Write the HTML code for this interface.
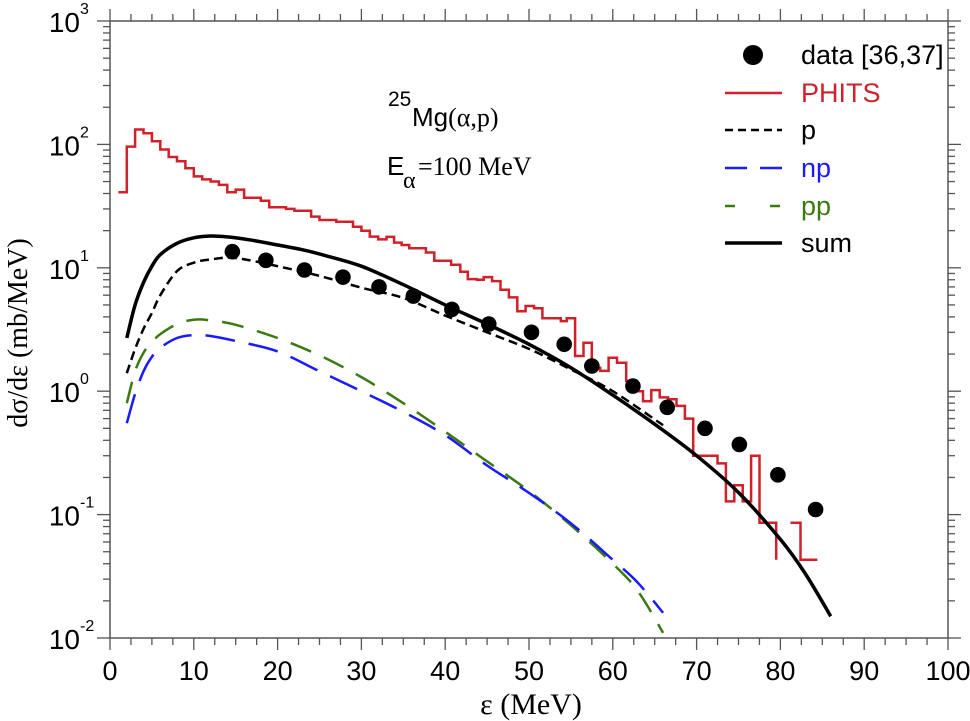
<!DOCTYPE html>
<html><head><meta charset="utf-8">
<style>
html,body{margin:0;padding:0;background:#fff;}
svg{display:block;}
.t{font-family:"Liberation Sans",Arial,sans-serif;}
.s{font-family:"Liberation Serif","Times New Roman",serif;}
</style></head>
<body>
<svg id="chart" width="970" height="721" viewBox="0 0 970 721" xmlns="http://www.w3.org/2000/svg">
<g id="plot"></g>
<g id="axes"></g>
<text class="s" transform="translate(27,333) rotate(-90)" text-anchor="middle" font-size="28">dσ/dε (mb/MeV)</text>
<text class="s" x="531" y="714" text-anchor="middle" font-size="30">ε (MeV)</text>
<g>
<text class="t" x="388" y="106" font-size="21">25</text>
<text class="t" x="412" y="126" font-size="26">Mg<tspan class="s">(α,p)</tspan></text>
</g>
<g>
<text class="t" x="387" y="175" font-size="26">E</text>
<text class="s" x="403" y="188" font-size="24">α</text>
<text class="s" x="418" y="175" font-size="26">=100 MeV</text>
</g>
<g id="legend"></g>
</svg>
<script>
// ---- data ----
const phitsEdges = [1,2,3,4,5,6,7,8,9,10,11,12,13,14,15,16,17,18,19,20,21,22,23,24,25,26,27,28,29,30,31,32,33,33.9,34.8,35.7,36.7,37.7,38.7,39.7,40.7,41.8,42.7,43.8,44.6,45.6,46.6,47.6,48.6,49.6,50.6,51.6,52.7,53.8,54.5,55.5,56.5,57.5,58.5,59.5,60.5,61.6,62.6,63.6,64.6,65.6,66.6,67.6,68.6,69.6,70.6,71.6,72.5,73.5,74.5,75.5,76.5,77.5,78.5,79.5,81.2,82.4,84.4];
const phitsValues = [41,96,132,123,106,91,79,73,64,55,52,50,47,41,43,37,37,35,31,31,30,29,29,26,24.4,24.4,23.6,23.6,21.5,20,17.9,17,17.8,16,15.3,14.4,14.4,13.3,11.4,11.4,10.6,9.3,8.1,8.0,8.4,7.8,6.65,5.76,4.45,4.9,4.7,3.9,3.9,3.7,3.9,1.93,2.47,1.55,1.46,1.87,1.70,1.21,1.0,0.83,1.02,0.89,0.86,0.76,0.60,0.30,0.30,0.30,0.26,0.128,0.173,0.128,0.30,0.086,0.086,null,0.086,0.043];
const dataE = [14.6,18.6,23.2,27.8,32.1,36.2,40.8,45.2,50.3,54.2,57.5,62.4,66.5,71,75.1,79.7,84.2];
const dataV = [13.5,11.5,9.6,8.4,7.0,5.9,4.6,3.5,3.0,2.4,1.6,1.1,0.74,0.50,0.37,0.21,0.11];
const sumE = [2,3,4,5,6,8,10,12,14,17,20,23,26,30,35,40,45,50,55,60,65,70,75,80,83,86];
const sumV = [2.7,5,7.6,10.3,12.8,15.8,17.5,18.1,17.8,16.7,15.3,14,12.4,10.3,7.3,5.0,3.5,2.4,1.55,0.93,0.54,0.30,0.151,0.063,0.033,0.015];
const pE = [2,3,4,5,6,8,10,12,15,20,25,30,35,40,45,50,55,60,66];
const pV = [1.4,2.2,3.2,4.3,6,9.4,11,11.7,12,10.3,8.6,6.9,5.7,4.1,3.0,2.2,1.5,1.0,0.53];
const npE = [2,3,4,5,6,8,10,12,15,20,25,30,35,40,45,50,55,60,63,66];
const npV = [0.55,0.95,1.45,1.9,2.25,2.7,2.85,2.8,2.55,2.1,1.45,1.0,0.68,0.44,0.25,0.15,0.085,0.043,0.028,0.016];
const ppE = [2,3,4,5,6,8,10,12,15,20,25,30,35,40,45,50,55,60,63,66];
const ppV = [0.8,1.45,2.05,2.5,2.9,3.5,3.8,3.75,3.45,2.7,1.95,1.3,0.8,0.47,0.27,0.155,0.082,0.04,0.024,0.011];
const xTicks = [0,10,20,30,40,50,60,70,80,90,100];
const yTickExp = [-2,-1,0,1,2,3];

// ---- axes ----
const X0=110, X1=948, Y0=638, Y1=21;
const xs = e => X0 + (e-0)/(100-0)*(X1-X0);
const ys = v => Y0 - (Math.log10(v)+2)/5*(Y0-Y1);
const NS="http://www.w3.org/2000/svg";
function mk(tag, attrs, parent){const el=document.createElementNS(NS,tag);for(const k in attrs)el.setAttribute(k,attrs[k]);parent.appendChild(el);return el;}
const plot=document.getElementById('plot'), axes=document.getElementById('axes'), legend=document.getElementById('legend');

const frame=mk('rect',{x:X0,y:Y1,width:X1-X0,height:Y0-Y1,fill:'none',stroke:'#555','stroke-width':1.5},axes);


for(let e=0;e<=100;e+=2.5){
  const major = Math.abs(e%10)<1e-9;
  const L = major?12:7;
  const x=xs(e);
  const tb=mk('line',{x1:x,x2:x,y1:Y0,y2:Y0+L,stroke:'#555','stroke-width':1.3},axes);
  
  
  const tt=mk('line',{x1:x,x2:x,y1:Y1,y2:Y1-L,stroke:'#555','stroke-width':1.3},axes);
  
  
}
xTicks.forEach(v=>{
  const t=mk('text',{x:xs(v),y:Y0+42,'text-anchor':'middle','font-size':27,class:'t'},axes);
  t.textContent=v;
  
  
});
for(let p=-2;p<=3;p++){
  for(let m=1;m<=9;m++){
    if(p===3 && m>1) break;
    const y=ys(m*Math.pow(10,p));
    const L = m===1?13:7;
    const tl=mk('line',{x1:X0,x2:X0-L,y1:y,y2:y,stroke:'#555','stroke-width':1.3},axes);
    
    
    const tr=mk('line',{x1:X1,x2:X1+L,y1:y,y2:y,stroke:'#555','stroke-width':1.3},axes);
    
    
  }
}
yTickExp.forEach(p=>{
  const y=ys(Math.pow(10,p));
  const t=mk('text',{x:X0-30,y:y+11,'text-anchor':'end','font-size':28,class:'t'},axes);
  t.textContent='10';
  
  
  const s=mk('text',{x:X0-30,y:y-7,'text-anchor':'start','font-size':16,class:'t'},axes);
  s.textContent=String(p);
  
  
});

function curve(E,V,color,w,dash,name){
  const P=E.map((e,i)=>[xs(e),ys(V[i])]);
  let d='M'+P[0][0].toFixed(1)+','+P[0][1].toFixed(1);
  for(let i=0;i<P.length-1;i++){
    const p0=P[i-1]||P[i], p1=P[i], p2=P[i+1], p3=P[i+2]||P[i+1];
    const c1=[p1[0]+(p2[0]-p0[0])/6, p1[1]+(p2[1]-p0[1])/6];
    const c2=[p2[0]-(p3[0]-p1[0])/6, p2[1]-(p3[1]-p1[1])/6];
    d+=' C'+c1[0].toFixed(1)+','+c1[1].toFixed(1)+' '+c2[0].toFixed(1)+','+c2[1].toFixed(1)+' '+p2[0].toFixed(1)+','+p2[1].toFixed(1);
  }
  const p=mk('path',{d:d,fill:'none',stroke:color,'stroke-width':w,'stroke-dasharray':dash||'none'},plot);
  
  
}
(function(){
  let d='', prev=null;
  const floor=0.043;
  for(let i=0;i<phitsValues.length;i++){
    const v=phitsValues[i], a=xs(phitsEdges[i]), b=xs(phitsEdges[i+1]);
    if(v===null){ if(prev!==null){ d+=' L'+a.toFixed(1)+','+ys(floor).toFixed(1);} prev=null; continue; }
    const y=ys(v).toFixed(1);
    if(prev===null) d+=' M'+a.toFixed(1)+','+y; else d+=' L'+a.toFixed(1)+','+y;
    d+=' L'+b.toFixed(1)+','+y;
    prev=v;
  }
  const p=mk('path',{d:d.trim(),fill:'none',stroke:'#d0202a','stroke-width':2.5},plot);
  
  
})();
curve(ppE,ppV,'#3a7a10',2.5,'22 14','pp-curve');
curve(npE,npV,'#1a1aff',2.5,'30 14','np-curve');
curve(pE,pV,'#000',2.5,'9 5','p-curve');
curve(sumE,sumV,'#000',3.5,null,'sum-curve');
dataE.forEach((e,i)=>{
  const c=mk('circle',{cx:xs(e),cy:ys(dataV[i]),r:7.8,fill:'#000'},plot);
  
  
});

const legItems=[
  {label:'data [36,37]',color:'#000',type:'dot'},
  {label:'PHITS',color:'#d0202a',type:'line',dash:'none',w:2.5},
  {label:'p',color:'#000',type:'line',dash:'8 5',w:2.5},
  {label:'np',color:'#1a1aff',type:'line',dash:'22 13',w:2.5},
  {label:'pp',color:'#3a7a10',type:'line',dash:'10 35',w:2.5},
  {label:'sum',color:'#000',type:'line',dash:'none',w:3.5}
];
const legY=[55,93,130,168,206,243];
legItems.forEach((it,i)=>{
  const g=mk('g',{},legend);
  
  
  const y=legY[i];
  if(it.type==='dot') mk('circle',{cx:753,cy:y,r:10,fill:'#000'},g);
  else mk('line',{x1:725,x2:782,y1:y,y2:y,stroke:it.color,'stroke-width':it.w,'stroke-dasharray':it.dash},g);
  const t=mk('text',{x:801,y:y+9,'font-size':27,fill:it.color,class:'t'},g);
  t.textContent=it.label;
});
</script>
</body></html>
